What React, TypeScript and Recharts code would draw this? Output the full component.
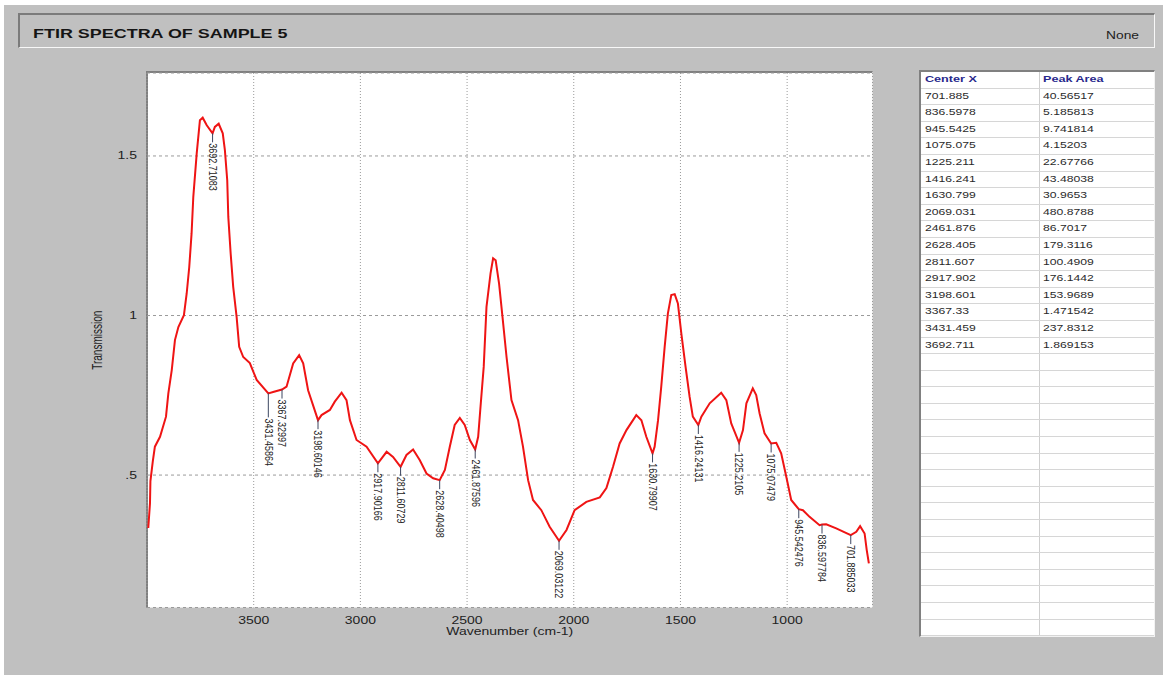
import { ComposedChart, Line, Scatter, XAxis, YAxis, CartesianGrid } from "recharts";

// FTIR trace of sample 5, from high to low wavenumber
const wavenumber = [
  3994, 3986, 3984, 3973, 3963, 3939, 3911, 3900, 3884, 3869, 3853, 3827, 3814, 3802, 3791, 3783,
  3767, 3752, 3739, 3720, 3692.71083, 3682, 3664, 3645, 3635, 3624, 3619, 3608, 3596, 3580, 3568,
  3549, 3518, 3486, 3431.45864, 3405, 3367.32997, 3346, 3315, 3287, 3268, 3245, 3198.60146, 3182,
  3143, 3120, 3088, 3065, 3049, 3018, 2971, 2917.90166, 2877, 2847, 2811.60729, 2784, 2753, 2722,
  2690, 2659, 2628.40498, 2604, 2581, 2558, 2534, 2511, 2487, 2461.87596, 2448, 2437, 2422, 2409,
  2390, 2378, 2366, 2350, 2334, 2315, 2292, 2261, 2238, 2214, 2191, 2152, 2113, 2069.03122, 2034,
  1996, 1941, 1878, 1847, 1816, 1785, 1753, 1707, 1683, 1660, 1630.79907, 1621, 1605, 1590, 1574,
  1559, 1543, 1527, 1512, 1496, 1476, 1457, 1442, 1416.24131, 1402, 1363, 1309, 1285, 1262,
  1225.2105, 1207, 1191, 1161, 1145, 1129, 1106, 1075.07479, 1051, 1028, 1004, 981, 945.542476,
  926, 895, 848, 836.597784, 817, 770, 701.885033, 676, 658, 637, 627, 617,
];

const transmission = [
  0.334, 0.412, 0.481, 0.542, 0.589, 0.62, 0.683, 0.756, 0.829, 0.923, 0.964, 1.001, 1.069, 1.152, 1.258, 1.372,
  1.508, 1.612, 1.62, 1.596, 1.571, 1.591, 1.601, 1.571, 1.518, 1.424, 1.309, 1.195, 1.09, 0.996, 0.902,
  0.87, 0.851, 0.798, 0.756, 0.761, 0.768, 0.777, 0.85, 0.876, 0.85, 0.766, 0.672, 0.688,
  0.704, 0.73, 0.758, 0.735, 0.672, 0.61, 0.589, 0.537, 0.573, 0.557, 0.526, 0.563, 0.58, 0.547,
  0.505, 0.49, 0.484, 0.516, 0.589, 0.657, 0.679, 0.657, 0.61, 0.58, 0.62, 0.714, 0.839, 1.027,
  1.132, 1.179, 1.173, 1.1, 0.996, 0.87, 0.735, 0.672, 0.589, 0.484, 0.422, 0.39, 0.338, 0.294, 0.328,
  0.39, 0.416, 0.43, 0.459, 0.526, 0.599, 0.641, 0.688, 0.672, 0.62, 0.568, 0.589, 0.672, 0.777, 0.902,
  1.006, 1.064, 1.067, 1.038, 0.944, 0.839, 0.745, 0.683, 0.657, 0.683, 0.725, 0.758, 0.735, 0.662,
  0.601, 0.641, 0.725, 0.772, 0.751, 0.693, 0.631, 0.599, 0.601, 0.568, 0.495, 0.422, 0.393,
  0.39, 0.369, 0.343, 0.345, 0.346, 0.333, 0.312, 0.322, 0.34, 0.317, 0.265, 0.223,
];

// picked peaks, labelled on the trace
const peakLabels = [
  3692.71083, 3431.45864, 3367.32997, 3198.60146, 2917.90166, 2811.60729, 2628.40498, 2461.87596,
  2069.03122, 1630.79907, 1416.24131, 1225.2105, 1075.07479, 945.542476, 836.597784, 701.885033,
];

// peak table
const centerX = [
  701.885, 836.5978, 945.5425, 1075.075, 1225.211, 1416.241, 1630.799, 2069.031,
  2461.876, 2628.405, 2811.607, 2917.902, 3198.601, 3367.33, 3431.459, 3692.711,
];
const peakArea = [
  40.56517, 5.185813, 9.741814, 4.15203, 22.67766, 43.48038, 30.9653, 480.8788,
  86.7017, 179.3116, 100.4909, 176.1442, 153.9689, 1.471542, 237.8312, 1.869153,
];

const xTicks = [3500, 3000, 2500, 2000, 1500, 1000];
const yTicks = [0.5, 1, 1.5];

const spectrum = wavenumber.map((wn, i) => ({ wn, t: transmission[i] }));
const peakPoints = peakLabels.map((wn) => spectrum.find((p) => p.wn === wn)!);

const FONT = '"Liberation Sans", Arial, Helvetica, sans-serif';
const STRETCH = 1.4;
const TABLE_ROWS = 33;
const ROW_H = 16.6;

function XTick({ x, y, payload }: any) {
  return (
    <text
      transform={`translate(${x},${y + 16}) scale(${STRETCH},1)`}
      textAnchor="middle"
      fontSize={10}
      fontFamily={FONT}
      fill="#222"
    >
      {payload.value}
    </text>
  );
}

function YTick({ x, y, payload }: any) {
  const label = String(payload.value).replace(/^0\./, ".");
  return (
    <text
      transform={`translate(${x - 10},${y}) scale(${STRETCH},1)`}
      textAnchor="end"
      dy="0.35em"
      fontSize={10}
      fontFamily={FONT}
      fill="#222"
    >
      {label}
    </text>
  );
}

function PeakMarker({ cx, cy, payload }: any) {
  // 3431 sits next to 3367, so its tag is pushed further down
  const lead = payload.wn === 3431.45864 ? 24 : 9;
  return (
    <g>
      <line x1={cx} y1={cy} x2={cx} y2={cy + lead} stroke="#3c4660" strokeWidth={1} />
      <text
        transform={`translate(${cx},${cy + lead + 1}) scale(1.15,1) rotate(90)`}
        dy="0.35em"
        fontSize={9}
        fontFamily={FONT}
        fill="#222"
      >
        {String(payload.wn)}
      </text>
    </g>
  );
}

const renderXTitle = ({ viewBox }: any) => (
  <text
    transform={`translate(${viewBox.x + viewBox.width / 2},${viewBox.y + 27}) scale(${STRETCH},1)`}
    textAnchor="middle"
    fontSize={10}
    fontFamily={FONT}
    fill="#222"
  >
    Wavenumber (cm-1)
  </text>
);

const renderYTitle = ({ viewBox }: any) => (
  <text
    transform={`translate(${viewBox.x + 14.5},${viewBox.y + viewBox.height / 2}) scale(${STRETCH},1) rotate(-90)`}
    textAnchor="middle"
    fontSize={10}
    fontFamily={FONT}
    fill="#222"
  >
    Transmission
  </text>
);

const cellText: React.CSSProperties = {
  display: "inline-block",
  transform: `scaleX(${STRETCH})`,
  transformOrigin: "left center",
  whiteSpace: "nowrap",
};

function PeakTable() {
  const rows = Array.from({ length: TABLE_ROWS }, (_, i) => i);
  return (
    <div
      style={{
        position: "absolute",
        left: 919,
        top: 70,
        width: 236,
        height: 567,
        boxSizing: "border-box",
        background: "#fff",
        borderTop: "2px solid #808080",
        borderLeft: "2px solid #808080",
        borderRight: "1px solid #f2f2f2",
        borderBottom: "1px solid #f2f2f2",
        fontFamily: FONT,
        overflow: "hidden",
      }}
    >
      <div style={{ display: "flex", height: ROW_H, borderBottom: "1px solid #d6d6d6", boxSizing: "border-box", fontSize: 9, fontWeight: 700, color: "#28288c", lineHeight: `${ROW_H - 1}px` }}>
        <div style={{ width: 119, paddingLeft: 4, borderRight: "1px solid #cfcfcf", boxSizing: "border-box" }}>
          <span style={cellText}>Center X</span>
        </div>
        <div style={{ flex: 1, paddingLeft: 3 }}>
          <span style={cellText}>Peak Area</span>
        </div>
      </div>
      {rows.map((i) => (
        <div
          key={i}
          style={{ display: "flex", height: ROW_H, borderBottom: "1px solid #d6d6d6", boxSizing: "border-box", fontSize: 8.7, color: "#2a2a2a", lineHeight: `${ROW_H - 1}px` }}
        >
          <div style={{ width: 119, paddingLeft: 4, borderRight: "1px solid #cfcfcf", boxSizing: "border-box" }}>
            <span style={cellText}>{i < centerX.length ? String(centerX[i]) : ""}</span>
          </div>
          <div style={{ flex: 1, paddingLeft: 3 }}>
            <span style={cellText}>{i < peakArea.length ? String(peakArea[i]) : ""}</span>
          </div>
        </div>
      ))}
    </div>
  );
}

export default function App() {
  return (
    <div style={{ position: "absolute", left: 0, top: 0, width: 1163, height: 675, background: "#fff", overflow: "hidden", fontFamily: FONT }}>
      <div style={{ position: "absolute", left: 4, top: 5, width: 1159, height: 670, background: "#c0c0c0" }} />

      {/* header strip */}
      <div
        style={{
          position: "absolute",
          left: 18,
          top: 13,
          width: 1137,
          height: 35,
          boxSizing: "border-box",
          borderTop: "2px solid #7b7b7b",
          borderLeft: "2px solid #7b7b7b",
          borderRight: "1px solid #f8f8f8",
          borderBottom: "1px solid #f8f8f8",
        }}
      />
      <div style={{ position: "absolute", left: 33, top: 27.3, fontSize: 13, lineHeight: "13px", fontWeight: 700, color: "#151515", whiteSpace: "nowrap", transform: "scaleX(1.38)", transformOrigin: "left top" }}>
        FTIR SPECTRA OF SAMPLE 5
      </div>
      <div style={{ position: "absolute", left: 1106, top: 30.5, fontSize: 10, lineHeight: "10px", color: "#222", whiteSpace: "nowrap", transform: "scaleX(1.38)", transformOrigin: "left top" }}>
        None
      </div>

      {/* plot well */}
      <div
        style={{
          position: "absolute",
          left: 146,
          top: 71,
          width: 727,
          height: 537,
          boxSizing: "border-box",
          background: "#fff",
          borderTop: "2px solid #808080",
          borderLeft: "2px solid #808080",
          borderRight: "1px solid #e6e6e6",
          borderBottom: "1px solid #e6e6e6",
        }}
      />

      <div style={{ position: "absolute", left: 0, top: 0 }}>
        <ComposedChart width={900} height={675} data={spectrum} margin={{ top: 73, right: 27.5, bottom: 37.5, left: 87 }}>
          <CartesianGrid vertical={false} stroke="#9a9a9a" strokeDasharray="3 3" />
          <CartesianGrid horizontal={false} stroke="#9a9a9a" strokeDasharray="1 2" />
          <XAxis
            type="number"
            dataKey="wn"
            domain={[600, 4000]}
            reversed
            ticks={xTicks}
            allowDataOverflow
            axisLine={false}
            tickLine={false}
            tickSize={0}
            tickMargin={0}
            height={30}
            tick={(p: any) => <XTick {...p} />}
            label={{ content: renderXTitle }}
          />
          <YAxis
            type="number"
            domain={[0.085, 1.76]}
            ticks={yTicks}
            allowDataOverflow
            axisLine={false}
            tickLine={false}
            tickSize={0}
            tickMargin={0}
            width={60}
            tick={(p: any) => <YTick {...p} />}
            label={{ content: renderYTitle }}
          />
          <Line type="linear" dataKey="t" stroke="#ef1414" strokeWidth={2} dot={false} activeDot={false} isAnimationActive={false} />
          <Scatter data={peakPoints} dataKey="t" shape={(p: any) => <PeakMarker {...p} />} isAnimationActive={false} />
        </ComposedChart>
      </div>

      <PeakTable />
    </div>
  );
}
